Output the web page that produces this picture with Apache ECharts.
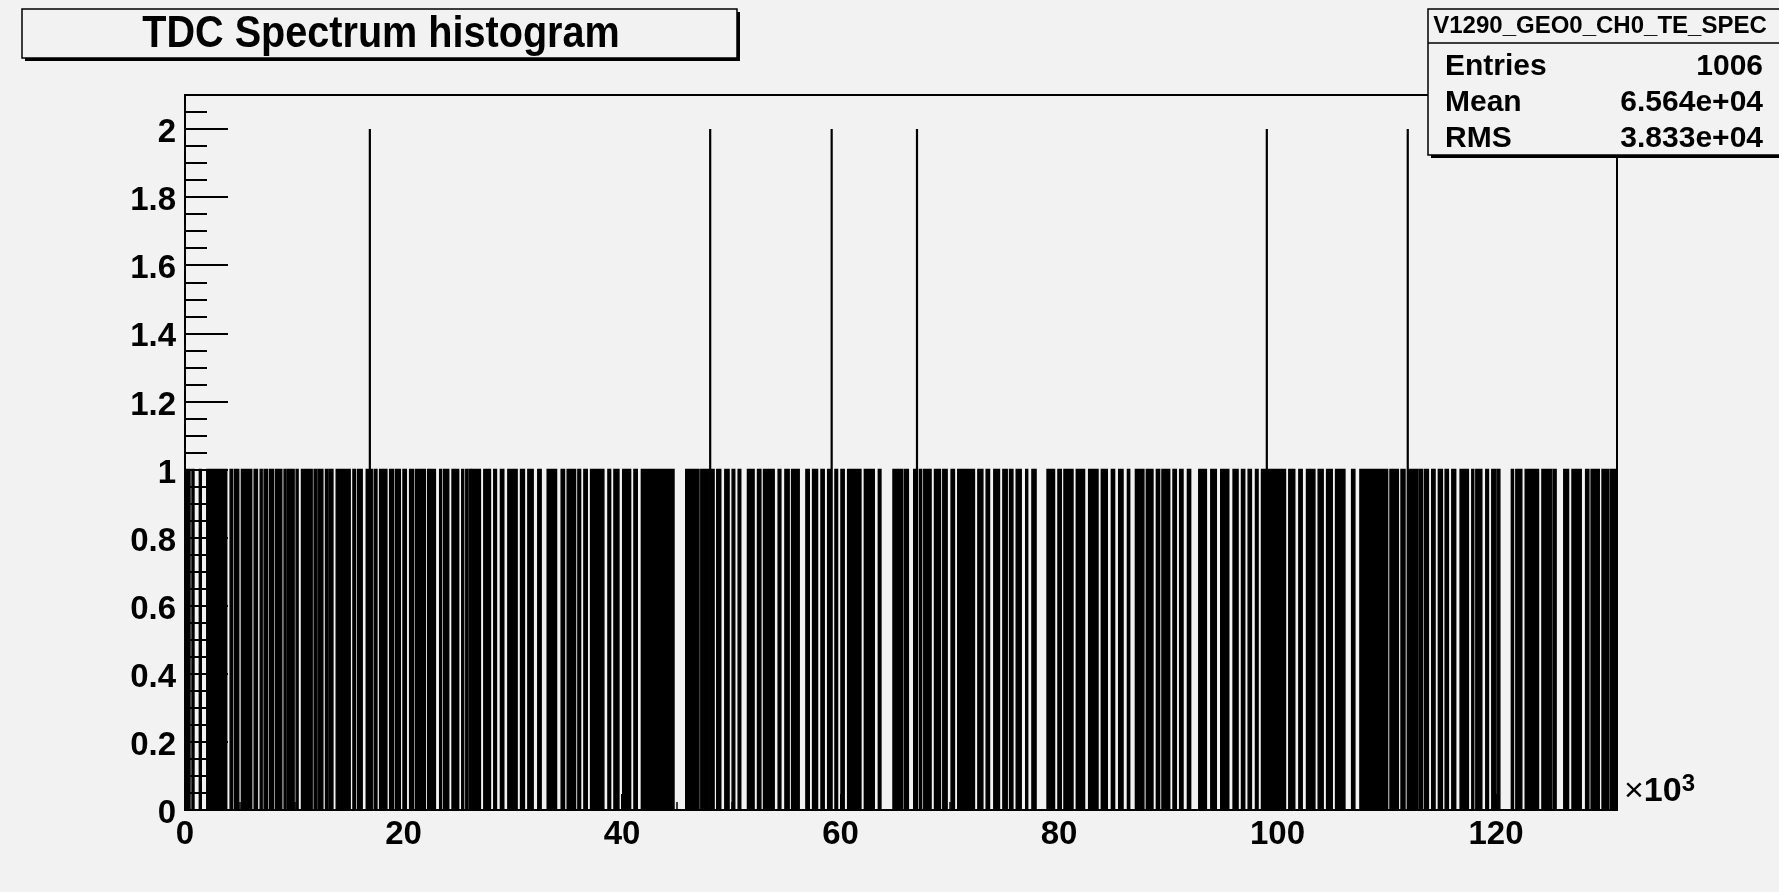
<!DOCTYPE html>
<html><head><meta charset="utf-8">
<script src="https://cdn.jsdelivr.net/npm/echarts@6/dist/echarts.min.js"></script>
<style>html,body{margin:0;padding:0;background:#f2f2f2;}#c{width:1779px;height:892px;}</style>
</head><body><div id="c"></div>
<script>
// ---- data (x in units of 10^3) ----
const titleText = 'TDC Spectrum histogram';
const statsName = 'V1290_GEO0_CH0_TE_SPEC';
const statsLabels = ['Entries', 'Mean', 'RMS'];
const statsValues = ['1006', '6.564e+04', '3.833e+04'];
const xMin = 0, xMax = 131.072;
const yMin = 0, yMax = 2.1;
const xTickStep = 20;
const yTickStep = 0.2;
const yMinorStep = 0.05;
// ranges of bins holding 1 entry (start, end)
const oneRuns = [
  [0.15,0.46],[0.64,0.76],[1.31,1.44],[1.99,3.82],[4.13,4.37],[4.55,4.92],[5.16,6.11],[6.33,6.63],[6.88,7.06],[7.24,7.55],
  [7.73,8.10],[8.28,8.86],[9.07,9.20],[9.38,9.99],[10.17,10.30],[10.66,11.64],[11.82,12.07],[12.19,12.62],[12.86,12.98],[13.17,13.54],
  [13.84,15.12],[15.37,15.61],[15.80,16.22],[16.59,17.14],[17.32,17.57],[17.81,18.48],[18.73,19.10],[19.28,19.71],[19.95,20.26],[20.56,20.93],
  [21.11,22.00],[22.21,22.92],[23.31,23.43],[23.68,24.14],[24.44,25.05],[25.33,25.51],[25.70,25.82],[26.00,26.12],[26.25,27.04],[27.35,27.96],
  [28.26,28.51],[28.87,29.18],[29.55,30.40],[30.71,31.07],[31.38,31.87],[32.29,32.60],[33.15,34.01],[34.43,34.74],[34.98,35.75],[35.96,36.21],
  [36.51,36.82],[37.12,38.34],[38.71,38.96],[39.26,39.72],[40.06,40.79],[41.09,41.40],[41.77,44.76],[45.83,47.05],[47.21,47.97],
  [48.18,48.43],[48.67,49.04],[49.41,49.80],[50.08,50.32],[50.63,50.87],[51.48,52.09],[52.40,52.71],[52.95,53.93],[54.29,54.54],[54.91,55.30],
  [55.52,56.22],[56.83,57.14],[57.44,57.90],[58.21,58.51],[58.82,59.12],[59.49,59.73],[60.04,60.34],[60.65,61.87],[62.18,63.09],[63.46,63.70],
  [64.80,65.69],[65.85,66.21],[66.70,66.92],[67.22,67.43],[67.62,68.29],[68.60,69.15],[69.36,69.76],[70.12,70.43],[70.73,72.26],
  [72.57,73.03],[73.33,73.64],[74.03,74.55],[74.86,75.26],[75.47,75.78],[76.08,76.54],[76.95,77.10],[77.52,77.90],[78.90,79.59],[79.90,80.21],[80.45,81.28],
  [81.58,82.34],[82.71,83.57],[83.87,84.42],[84.79,85.09],[85.46,85.86],[86.26,86.47],[86.99,87.77],[87.99,88.60],[88.91,89.21],[89.42,90.13],
  [90.43,90.74],[91.04,91.35],[91.75,92.05],[92.79,93.49],[93.89,94.40],[94.80,95.54],[95.93,96.39],[96.70,97.00],[97.31,97.61],[97.98,98.22],
  [98.53,100.73],[101.03,101.58],[101.95,102.26],[102.65,103.42],[103.72,104.18],[104.49,105.01],[105.31,106.17],[106.78,107.08],[107.54,110.08],[110.29,110.69],
  [110.81,111.06],[111.30,111.67],[111.91,112.83],[112.95,113.26],[113.44,113.81],[114.11,114.42],[114.72,115.09],[115.34,115.64],[115.95,116.31],[116.71,117.47],
  [117.78,117.93],[118.15,118.70],[119.06,119.31],[119.61,119.98],[120.10,120.35],[121.40,121.60],[121.81,122.36],[122.67,123.89],[124.20,125.11],[125.25,125.50],
  [126.20,126.64],[126.95,127.80],[128.20,128.50],[128.70,129.45],[129.70,130.31],[130.45,130.92]
];
// bins holding 2 entries
const twoBins = [16.92, 48.07, 59.19, 67.00, 99.02, 111.92];

const FONT = "'Liberation Sans', Arial, Helvetica, sans-serif";
const chart = echarts.init(document.getElementById('c'), null, {renderer: 'canvas'});

const option = {
  animation: false,
  backgroundColor: '#f2f2f2',
  grid: {left: 185, right: 162, top: 95, bottom: 82, show: true, borderColor: '#000', borderWidth: 2, backgroundColor: 'transparent'},
  xAxis: {
    type: 'value', min: xMin, max: xMax, interval: xTickStep,
    axisLine: {show: true, lineStyle: {color: '#000', width: 2}},
    axisTick: {show: true, inside: true, length: 16, lineStyle: {color: '#000', width: 2}},
    minorTick: {show: true, splitNumber: 4, length: 8, lineStyle: {color: '#000', width: 1.5}},
    splitLine: {show: false},
    axisLabel: {show: true, showMaxLabel: false, margin: 8, color: '#000', fontFamily: FONT, fontWeight: 'bold', fontSize: 33}
  },
  yAxis: [{
    type: 'value', min: yMin, max: yMax, interval: yTickStep,
    axisLine: {show: true, lineStyle: {color: '#000', width: 2}},
    axisTick: {show: true, inside: true, length: 43, lineStyle: {color: '#000', width: 2}},
    splitLine: {show: false},
    axisLabel: {show: true, showMaxLabel: false, margin: 9, verticalAlign: 'top', lineHeight: 8, color: '#000', fontFamily: FONT, fontWeight: 'bold', fontSize: 33,
      formatter: v => String(+v.toFixed(1))}
  }, {
    type: 'value', min: yMin, max: yMax, interval: yMinorStep, position: 'left', offset: 0,
    axisLine: {show: false},
    axisTick: {show: true, inside: true, length: 22, lineStyle: {color: '#000', width: 2}},
    splitLine: {show: false},
    axisLabel: {show: false}
  }],
  series: [{
    type: 'custom', name: 'ones', yAxisIndex: 0,
    data: oneRuns.map(r => [r[0], r[1], 1]),
    encode: {x: [0, 1], y: 2},
    clip: true,
    renderItem: (params, api) => {
      const p0 = api.coord([api.value(0), 0]);
      const p1 = api.coord([api.value(1), api.value(2)]);
      return {type: 'rect', shape: {x: p0[0], y: p1[1], width: Math.max(p1[0] - p0[0], 2), height: p0[1] - p1[1]},
        style: {fill: '#000', stroke: '#000', lineWidth: 1.4}};
    }
  }, {
    type: 'custom', name: 'twos', yAxisIndex: 0,
    data: twoBins.map(x => [x, 2]),
    encode: {x: 0, y: 1},
    clip: true,
    renderItem: (params, api) => {
      const p0 = api.coord([api.value(0), 0]);
      const p1 = api.coord([api.value(0), api.value(1)]);
      return {type: 'line', shape: {x1: p0[0], y1: p0[1], x2: p1[0], y2: p1[1]},
        style: {stroke: '#000', lineWidth: 2.2}};
    }
  }],
  graphic: [
    // title box with shadow
    {type: 'rect', shape: {x: 25, y: 12, width: 715, height: 49}, style: {fill: '#000'}, z: 1},
    {type: 'rect', shape: {x: 22, y: 9, width: 715, height: 49}, style: {fill: '#f2f2f2', stroke: '#000', lineWidth: 1.5}, z: 2},
    {type: 'text', x: 381, y: 35, scaleX: 0.9, z: 3, style: {text: titleText, fill: '#000', font: 'bold 44px ' + FONT, textAlign: 'center', textVerticalAlign: 'middle'}},
    // stats box with shadow
    {type: 'rect', shape: {x: 1431, y: 12, width: 360, height: 146}, style: {fill: '#000'}, z: 10},
    {type: 'rect', shape: {x: 1428, y: 9, width: 360, height: 146}, style: {fill: '#f2f2f2', stroke: '#000', lineWidth: 1.5}, z: 11},
    {type: 'line', shape: {x1: 1428, y1: 43, x2: 1779, y2: 43}, style: {stroke: '#000', lineWidth: 1.5}, z: 12},
    {type: 'text', x: 1600, y: 26, z: 12, style: {text: statsName, fill: '#000', font: "bold 24px " + FONT, textAlign: 'center', textVerticalAlign: 'middle'}},
    ...statsLabels.map((t, i) => ({type: 'text', x: 1445, y: 67 + i * 36, z: 12,
      style: {text: t, fill: '#000', font: 'bold 30px ' + FONT, textAlign: 'left', textVerticalAlign: 'middle'}})),
    ...statsValues.map((t, i) => ({type: 'text', x: 1763, y: 67 + i * 36, z: 12,
      style: {text: t, fill: '#000', font: 'bold 30px ' + FONT, textAlign: 'right', textVerticalAlign: 'middle'}})),
    // x10^3 multiplier
    {type: 'text', x: 1624, y: 812, z: 12, style: {
      text: '{m|×}{b|10}{s|3}', textVerticalAlign: 'bottom', textAlign: 'left',
      rich: {
        m: {fontFamily: FONT, fontSize: 34, fontWeight: 'normal', fill: '#000'},
        b: {fontFamily: FONT, fontSize: 34, fontWeight: 'bold', fill: '#000'},
        s: {fontFamily: FONT, fontSize: 24, fontWeight: 'bold', fill: '#000', verticalAlign: 'top', padding: [0, 0, 16, 0]}
      }}}
  ]
};
chart.setOption(option);
</script>
</body></html>
